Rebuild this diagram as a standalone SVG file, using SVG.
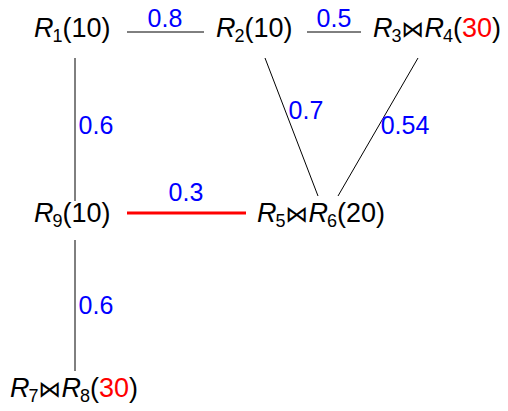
<svg xmlns="http://www.w3.org/2000/svg" width="508" height="411" viewBox="0 0 508 411">
<style>
.n{font-family:"Liberation Sans","DejaVu Sans",sans-serif;font-size:27px;fill:#000}
.i{font-style:italic}
.s{font-size:18px}
.bt{font-family:"DejaVu Sans",sans-serif;font-size:23px}
.red{fill:#ff0000}
.lbl{font-family:"Liberation Sans","DejaVu Sans",sans-serif;font-size:25px;fill:#0000ff;text-anchor:middle}
.e{stroke:#000;stroke-width:1;fill:none}
.h{stroke:#ff0000;stroke-width:3;fill:none}
</style>
<rect width="508" height="411" fill="#fff"/>
<g id="connectors">
<line class="e" x1="127" y1="32" x2="204" y2="32"/>
<text class="lbl" x="165" y="27">0.8</text>
<line class="e" x1="307" y1="32" x2="361" y2="32"/>
<text class="lbl" x="334" y="27">0.5</text>
<line class="e" x1="75" y1="58" x2="75" y2="201"/>
<text class="lbl" x="96" y="134">0.6</text>
<line class="e" x1="265" y1="58" x2="318" y2="196"/>
<text class="lbl" x="306" y="119">0.7</text>
<line class="e" x1="418" y1="58" x2="338" y2="196"/>
<text class="lbl" x="405" y="134">0.54</text>
<line class="h" x1="127" y1="213" x2="246" y2="213"/>
<text class="lbl" x="186" y="201">0.3</text>
<line class="e" x1="75" y1="240" x2="75" y2="371"/>
<text class="lbl" x="96" y="314">0.6</text>
</g>
<g id="R1"><text class="n" x="34" y="37"><tspan class="i">R</tspan><tspan class="s" dx="-1" dy="5">1</tspan><tspan dy="-5">(10)</tspan></text></g>
<g id="R2"><text class="n" x="216" y="37"><tspan class="i">R</tspan><tspan class="s" dx="-1" dy="5">2</tspan><tspan dy="-5">(10)</tspan></text></g>
<g id="R3R4"><text class="n" x="373" y="37"><tspan class="i">R</tspan><tspan class="s" dx="-1" dy="5">3</tspan><tspan class="bt" dy="-5">⋈</tspan><tspan class="i">R</tspan><tspan class="s" dx="-1" dy="5">4</tspan><tspan dy="-5">(</tspan><tspan class="red">30</tspan><tspan>)</tspan></text></g>
<g id="R9"><text class="n" x="34" y="222"><tspan class="i">R</tspan><tspan class="s" dx="-1" dy="5">9</tspan><tspan dy="-5">(10)</tspan></text></g>
<g id="R5R6"><text class="n" x="257" y="222"><tspan class="i">R</tspan><tspan class="s" dx="-1" dy="5">5</tspan><tspan class="bt" dy="-5">⋈</tspan><tspan class="i">R</tspan><tspan class="s" dx="-1" dy="5">6</tspan><tspan dy="-5">(20)</tspan></text></g>
<g id="R7R8"><text class="n" x="10" y="397"><tspan class="i">R</tspan><tspan class="s" dx="-1" dy="5">7</tspan><tspan class="bt" dy="-5">⋈</tspan><tspan class="i">R</tspan><tspan class="s" dx="-1" dy="5">8</tspan><tspan dy="-5">(</tspan><tspan class="red">30</tspan><tspan>)</tspan></text></g>
</svg>
